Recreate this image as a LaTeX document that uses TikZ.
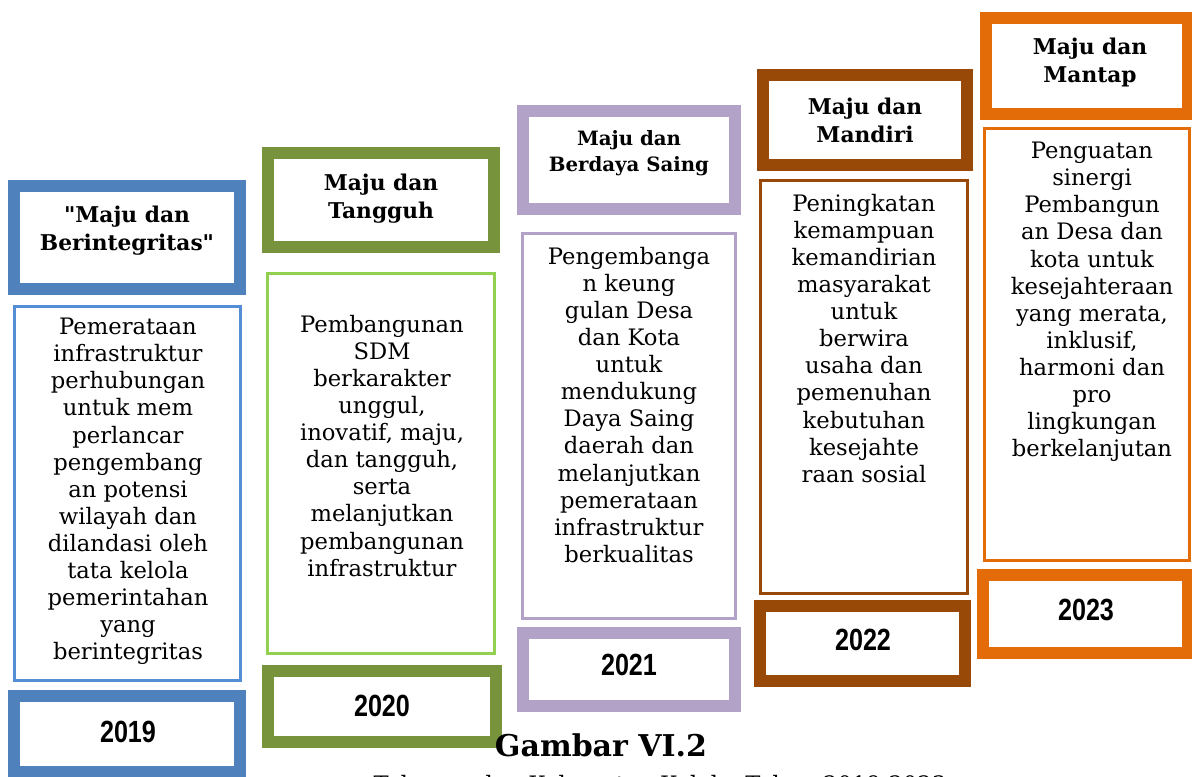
\documentclass[tikz,border=0pt]{standalone}
\usepackage{fontspec}
\usepackage{graphicx}
\setmainfont{DejaVu Serif}
\newfontfamily\yearfont{Liberation Sans}
\newfontfamily\bkm{DejaVu Serif}
\definecolor{cA}{HTML}{4F81BD}
\definecolor{cAl}{HTML}{558ED5}
\definecolor{cB}{HTML}{77933C}
\definecolor{cBl}{HTML}{92D050}
\definecolor{cC}{HTML}{B2A2C7}
\definecolor{cD}{HTML}{984807}
\definecolor{cE}{HTML}{E36C09}
\tikzset{
  thickbox/.style={draw=#1, line width=9pt, fill=white, inner sep=0pt},
  thinbox/.style={draw=#1, line width=2.25pt, fill=white, inner sep=0pt},
  desctext/.style={font=\bkm\fontsize{17}{20.3}\selectfont, align=center, anchor=north, inner sep=0pt},
  titletext/.style={font=\bkm\bfseries\fontsize{16.3}{21}\selectfont, align=center, inner sep=0pt},
  yeartext/.style={font=\yearfont\bfseries\fontsize{23}{26}\selectfont, inner sep=0pt},
}
\begin{document}
\begin{tikzpicture}[x=0.75pt,y=-0.75pt]
\useasboundingbox (0,0) rectangle (1192,777);
% column 1
\node[thickbox=cA, minimum width=169.5pt, minimum height=77.25pt] (t1) at (127,237.5) {};
\node[thinbox=cAl, minimum width=169.5pt, minimum height=280.5pt] (d1) at (127.5,493.5) {};
\node[thickbox=cA, minimum width=169.5pt, minimum height=57pt] (y1) at (127,734) {};
% column 2
\node[thickbox=cB, minimum width=169.5pt, minimum height=70.5pt] (t2) at (381,200) {};
\node[thinbox=cBl, minimum width=170.25pt, minimum height=285pt] (d2) at (381,463.5) {};
\node[thickbox=cB, minimum width=171pt, minimum height=53.25pt] (y2) at (382,706.5) {};
% column 3
\node[thickbox=cC, minimum width=159pt, minimum height=73.5pt] (t3) at (629,160) {};
\node[thinbox=cC, minimum width=159.75pt, minimum height=288.75pt] (d3) at (629,426) {};
\node[thickbox=cC, minimum width=159pt, minimum height=54.75pt] (y3) at (629,669.5) {};
% column 4
\node[thickbox=cD, minimum width=153pt, minimum height=67.5pt] (t4) at (865,120) {};
\node[thinbox=cD, minimum width=155.25pt, minimum height=309.75pt] (d4) at (864,387) {};
\node[thickbox=cD, minimum width=153.75pt, minimum height=56.25pt] (y4) at (862.5,643.5) {};
% column 5
\node[thickbox=cE, minimum width=151.5pt, minimum height=72pt] (t5) at (1087,66) {};
\node[thinbox=cE, minimum width=153.75pt, minimum height=324pt] (d5) at (1087,344.5) {};
\node[thickbox=cE, minimum width=153.75pt, minimum height=58.5pt] (y5) at (1085.5,614) {};
% titles
\node[titletext] (tt1) at (127,231) {"Maju dan\\Berintegritas"};
\node[titletext] (tt2) at (381,198.5) {Maju dan\\Tangguh};
\node[titletext, font=\bkm\bfseries\fontsize{14.8}{19.5}\selectfont] (tt3) at (629,153) {Maju dan\\Berdaya Saing};
\node[titletext] (tt4) at (865,120) {Maju dan\\Mandiri};
\node[titletext] (tt5) at (1090,63) {Maju dan\\Mantap};
% descriptions
\node[desctext] (dt1) at (128,318) {Pemerataan\\infrastruktur\\perhubungan\\untuk mem\\perlancar\\pengembang\\an potensi\\wilayah dan\\dilandasi oleh\\tata kelola\\pemerintahan\\yang\\berintegritas};
\node[desctext] (dt2) at (382,315) {Pembangunan\\SDM\\berkarakter\\unggul,\\inovatif, maju,\\dan tangguh,\\serta\\melanjutkan\\pembangunan\\infrastruktur};
\node[desctext] (dt3) at (629,247) {Pengembanga\\n keung\\gulan Desa\\dan Kota\\untuk\\mendukung\\Daya Saing\\daerah dan\\melanjutkan\\pemerataan\\infrastruktur\\berkualitas};
\node[desctext] (dt4) at (864,194) {Peningkatan\\kemampuan\\kemandirian\\masyarakat\\untuk\\berwira\\usaha dan\\pemenuhan\\kebutuhan\\kesejahte\\raan sosial};
\node[desctext] (dt5) at (1092,142) {Penguatan\\sinergi\\Pembangun\\an Desa dan\\kota untuk\\kesejahteraan\\yang merata,\\inklusif,\\harmoni dan\\pro\\lingkungan\\berkelanjutan};
% years
\node[yeartext] (yt1) at (128,732) {\scalebox{0.82}[1]{2019}};
\node[yeartext] (yt2) at (382,706) {\scalebox{0.82}[1]{2020}};
\node[yeartext] (yt3) at (629,665) {\scalebox{0.82}[1]{2021}};
\node[yeartext] (yt4) at (863,640) {\scalebox{0.82}[1]{2022}};
\node[yeartext] (yt5) at (1086,610) {\scalebox{0.82}[1]{2023}};
% caption
\node[font=\bkm\bfseries\fontsize{22.5}{26}\selectfont, inner sep=0pt] (cap) at (601,745) {Gambar VI.2};
\node[font=\bkm\fontsize{17}{20}\selectfont, inner sep=0pt, anchor=base] (cap2) at (660,792) {Tahapan dan Kabupaten Kolaka Tahun 2019-2023};
\end{tikzpicture}
\end{document}
